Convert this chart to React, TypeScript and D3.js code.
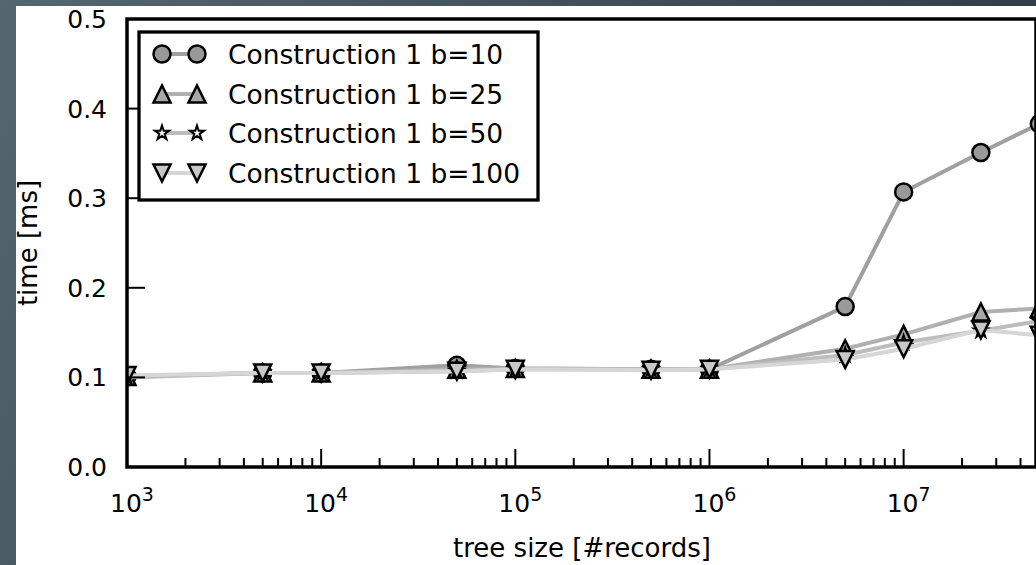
import React from "react";
import * as d3 from "d3";

// tree sizes (#records)
const sizes = [1e3, 5e3, 1e4, 5e4, 1e5, 5e5, 1e6, 5e6, 1e7, 2.5e7, 5e7];

// time [ms] per configuration
const b10 = [0.101, 0.105, 0.105, 0.1135, 0.11, 0.109, 0.109, 0.179, 0.307, 0.351, 0.383];
const b25 = [0.101, 0.105, 0.105, 0.109, 0.11, 0.109, 0.109, 0.132, 0.148, 0.173, 0.177];
const b50 = [0.1, 0.105, 0.105, 0.107, 0.109, 0.109, 0.109, 0.125, 0.139, 0.152, 0.163];
const b100 = [0.102, 0.105, 0.105, 0.107, 0.109, 0.108, 0.109, 0.12, 0.132, 0.153, 0.147];

const seriesNames = [
  "Construction 1 b=10",
  "Construction 1 b=25",
  "Construction 1 b=50",
  "Construction 1 b=100",
];

const yTicks = [0.0, 0.1, 0.2, 0.3, 0.4, 0.5];
const xMajor = [1e3, 1e4, 1e5, 1e6, 1e7];

const FONT = "'DejaVu Sans', sans-serif";

function markerPath(kind: string, r: number) {
  if (kind === "circle") {
    return d3.symbol(d3.symbolCircle, Math.PI * r * r)() as string;
  }
  if (kind === "up") {
    return `M0,${-r}L${-r},${r}L${r},${r}Z`;
  }
  if (kind === "down") {
    return `M0,${r}L${-r},${-r}L${r},${-r}Z`;
  }
  // 5-point star
  const pts: string[] = [];
  for (let i = 0; i < 10; i++) {
    const rad = i % 2 === 0 ? r : r * 0.382;
    const a = (Math.PI / 5) * i - Math.PI / 2;
    pts.push(`${(rad * Math.cos(a)).toFixed(2)},${(rad * Math.sin(a)).toFixed(2)}`);
  }
  return "M" + pts.join("L") + "Z";
}

const styles = [
  { data: b10, kind: "circle", r: 8.5, sw: 2.5, fill: "#999999", line: "#a0a0a0" },
  { data: b25, kind: "up", r: 8.5, sw: 2.5, fill: "#a8a8a8", line: "#b0b0b0" },
  { data: b50, kind: "star", r: 7.5, sw: 2, fill: "#f4f4f4", line: "#bdbdbd" },
  { data: b100, kind: "down", r: 8.5, sw: 2.5, fill: "#c8c8c8", line: "#d6d6d6" },
];

export default function App() {
  const W = 1036;
  const H = 565;
  const left = 127;
  const right = 1035;
  const top = 19;
  const bottom = 467;

  const x = d3.scaleLog().domain([1e3, 4.75e7]).range([left, right]);
  const y = d3.scaleLinear().domain([0, 0.5]).range([bottom, top]);

  const minor: number[] = [];
  for (let e = 3; e <= 7; e++) {
    for (let k = 2; k <= 9; k++) {
      const v = k * Math.pow(10, e);
      if (v <= 4.75e7) minor.push(v);
    }
  }

  const line = d3
    .line<number>()
    .x((d, i) => x(sizes[i]))
    .y((d) => y(d));

  const legX = 139;
  const legY = 32;
  const rowY = [54, 94, 133, 173];

  return (
    <svg
      width={W}
      height={H}
      style={{ position: "fixed", left: 0, top: 0 }}
      fontFamily={FONT}
    >
      <defs>
        <linearGradient id="bg" x1="0" y1="0" x2="1" y2="0.3">
          <stop offset="0" stopColor="#566670" />
          <stop offset="1" stopColor="#2d3b45" />
        </linearGradient>
        <clipPath id="plotClip">
          <rect x={left} y={top} width={right - left} height={bottom - top} />
        </clipPath>
      </defs>
      <rect width={W} height={H} fill="url(#bg)" />
      <rect x={16} y={6} width={W - 16} height={H - 6} fill="#ffffff" />

      {/* data */}
      <g clipPath="url(#plotClip)">
        {styles.map((s, si) => (
          <g key={si}>
            <path
              d={line(s.data) as string}
              fill="none"
              stroke={s.line}
              strokeWidth={4}
              strokeLinejoin="round"
            />
            {s.data.map((v, i) => (
              <path
                key={i}
                d={markerPath(s.kind, s.r)}
                transform={`translate(${x(sizes[i])},${y(v)})`}
                fill={s.fill}
                stroke="#000"
                strokeWidth={s.sw}
                strokeLinejoin="miter"
              />
            ))}
          </g>
        ))}
      </g>

      {/* y ticks */}
      {yTicks.map((t) => (
        <g key={t}>
          <line x1={left} x2={left + 18} y1={y(t)} y2={y(t)} stroke="#000" strokeWidth={2} />
          <text
            x={left - 20}
            y={y(t)}
            dy="0.36em"
            textAnchor="end"
            fontSize={25}
            fill="#000"
          >
            {t.toFixed(1)}
          </text>
        </g>
      ))}

      {/* x ticks */}
      {minor.map((t) => (
        <line key={t} x1={x(t)} x2={x(t)} y1={bottom} y2={bottom - 9} stroke="#000" strokeWidth={2} />
      ))}
      {xMajor.map((t) => (
        <g key={t}>
          <line x1={x(t)} x2={x(t)} y1={bottom} y2={bottom - 18} stroke="#000" strokeWidth={2} />
          <text x={x(t) + 5} y={512} textAnchor="middle" fontSize={25} fill="#000">
            10
            <tspan dy={-11} fontSize={19}>
              {Math.round(Math.log10(t))}
            </tspan>
          </text>
        </g>
      ))}

      {/* spines */}
      <rect
        x={left}
        y={top}
        width={right - left + 1}
        height={bottom - top}
        fill="none"
        stroke="#000"
        strokeWidth={3.5}
      />

      {/* axis labels */}
      <text x={(left + 1037) / 2} y={557} textAnchor="middle" fontSize={26} fill="#000">
        tree size [#records]
      </text>
      <text
        transform={`translate(37,${(top + bottom) / 2}) rotate(-90)`}
        textAnchor="middle"
        fontSize={26}
        fill="#000"
      >
        time [ms]
      </text>

      {/* legend */}
      <rect x={legX} y={legY} width={399} height={168} fill="#fff" stroke="#000" strokeWidth={3.3} />
      {styles.map((s, si) => (
        <g key={si}>
          <line x1={162} x2={197} y1={rowY[si]} y2={rowY[si]} stroke={s.line} strokeWidth={4} />
          {[162, 197].map((mx) => (
            <path
              key={mx}
              d={markerPath(s.kind, s.r)}
              transform={`translate(${mx},${rowY[si]})`}
              fill={s.fill}
              stroke="#000"
              strokeWidth={s.sw}
            />
          ))}
          <text x={228} y={rowY[si]} dy="0.36em" fontSize={26.5} fill="#000">
            {seriesNames[si]}
          </text>
        </g>
      ))}
    </svg>
  );
}
